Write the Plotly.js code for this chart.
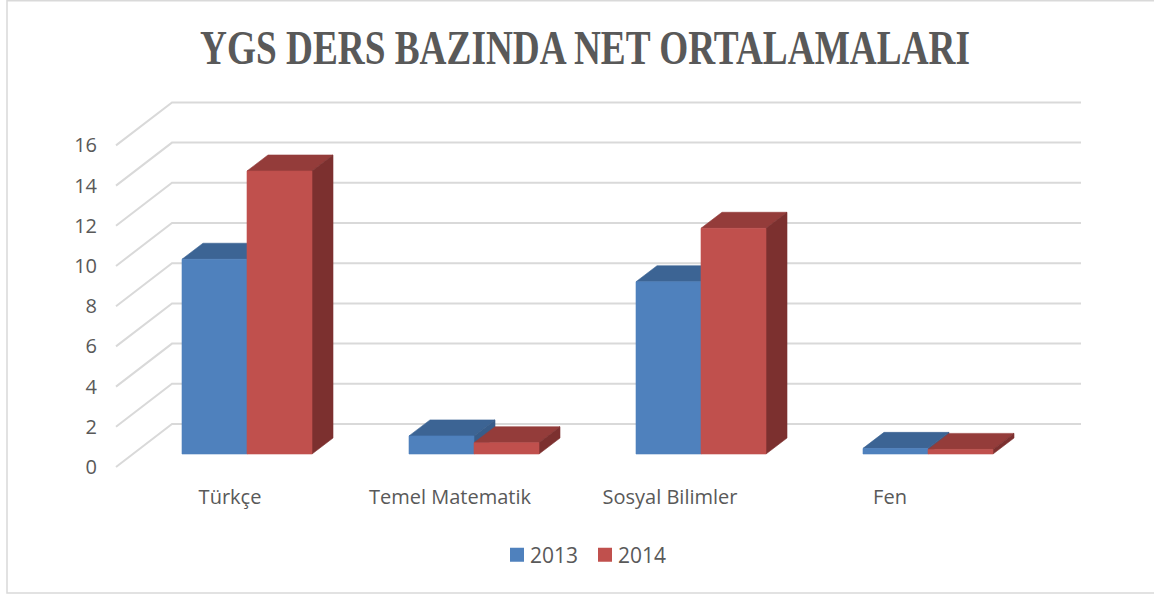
<!DOCTYPE html>
<html>
<head>
<meta charset="utf-8">
<script src="https://cdn.plot.ly/plotly-3.0.1.min.js"></script>
<style>html,body{margin:0;padding:0;background:#fff;}#chart{width:1154px;height:597px;}</style>
</head>
<body>
<div id="chart"></div>
<script>
// ---- data ----
const categories = ['Türkçe', 'Temel Matematik', 'Sosyal Bilimler', 'Fen'];
const seriesNames = ['2013', '2014'];
const values2013 = [9.69, 0.90, 8.57, 0.28];
const values2014 = [14.08, 0.56, 11.23, 0.23];
const yTickValues = [0, 2, 4, 6, 8, 10, 12, 14, 16];
const yTickLabels = ['0', '2', '4', '6', '8', '10', '12', '14', '16'];

// ---- styling / geometry (pixel-ish constants converted into axis units) ----
const W = 1154, H = 597;
const ML = 98;                  // left margin (tick labels live in it)
const pxPerCat = 227, pxPerUnit = 20.1;
const originPx = 247, originPy = 454;   // group 0 centre, value 0 on bar front plane
const toX = px => (px - originPx) / pxPerCat;
const toY = py => (originPy - py) / pxPerUnit;
const barW = 65 / pxPerCat;
const depthX = 21 / pxPerCat, depthY = 16 / pxPerUnit;
const wallDY = 30 / pxPerUnit;                             // back wall offset
const frontDY = -13 / pxPerUnit;                           // front edge offset
const wallLeft = toX(172), wallRight = toX(1081), frontLeft = toX(116);

const colors = {
  '2013': {front: '#4F81BD', top: '#3C6494', side: '#385D8A'},
  '2014': {front: '#C0504D', top: '#943C3A', side: '#7C302F'}
};

const traces = [];
// gridlines (back wall + diagonal side wall)
yTickValues.forEach(v => {
  traces.push({
    type: 'scatter', mode: 'lines', hoverinfo: 'skip', showlegend: false,
    x: [frontLeft, wallLeft, wallRight],
    y: [v + frontDY, v + wallDY, v + wallDY],
    line: {color: '#D9D9D9', width: 2}
  });
});

function poly(xs, ys, color) {
  traces.push({
    type: 'scatter', mode: 'lines', fill: 'toself', fillcolor: color,
    hoverinfo: 'skip', showlegend: false,
    x: xs.concat([xs[0]]), y: ys.concat([ys[0]]),
    line: {color: color, width: 0.6}
  });
}

const allSeries = [values2013, values2014];
categories.forEach((c, i) => {
  allSeries.forEach((vals, s) => {
    const v = vals[i];
    const col = colors[seriesNames[s]];
    const x0 = i - barW + s * barW, x1 = x0 + barW;
    poly([x0, x1, x1 + depthX, x0 + depthX], [v, v, v + depthY, v + depthY], col.top);
    poly([x1, x1 + depthX, x1 + depthX, x1], [0, depthY, v + depthY, v], col.side);
    poly([x0, x1, x1, x0], [0, 0, v, v], col.front);
  });
});

// legend entries
seriesNames.forEach(n => {
  traces.push({type: 'scatter', mode: 'markers', name: n, x: [null], y: [null],
    marker: {color: colors[n].front, symbol: 'square', size: 14, line: {width: 0}}});
});

// category label positions along the front edge of the floor
const catTickVals = categories.map((c, i) => toX(230 + 220 * i));

const layout = {
  width: W, height: H,
  margin: {l: ML, r: 0, t: 0, b: 0, autoexpand: false},
  paper_bgcolor: '#ffffff', plot_bgcolor: 'rgba(0,0,0,0)',
  showlegend: true,
  title: {
    text: '<b>YGS DERS BAZINDA NET ORTALAMALARI</b>',
    font: {family: 'Liberation Serif, Times New Roman, serif', size: 48, color: '#595959'},
    x: 585 / W, xref: 'container', xanchor: 'center',
    y: 1 - 47 / H, yref: 'container', yanchor: 'middle', automargin: false
  },
  xaxis: {
    range: [toX(ML), toX(W)], anchor: 'free', position: 1 - 483 / H,
    showgrid: false, zeroline: false, showline: false, ticks: '', automargin: false,
    tickmode: 'array', tickvals: catTickVals, ticktext: categories,
    tickfont: {family: 'Open Sans, sans-serif', size: 20, color: '#595959'},
    fixedrange: true
  },
  yaxis: {
    range: [toY(H), toY(0)], automargin: false,
    showgrid: false, zeroline: false, showline: false, ticks: '',
    tickmode: 'array', tickvals: yTickValues.map(v => v + frontDY), ticktext: yTickLabels,
    tickfont: {family: 'Open Sans, sans-serif', size: 20, color: '#595959'},
    fixedrange: true
  },
  legend: {
    orientation: 'h', xref: 'container', yref: 'container',
    x: 497 / W, xanchor: 'left', y: 1 - 555 / H, yanchor: 'middle',
    font: {family: 'Open Sans, sans-serif', size: 21, color: '#595959'},
    itemwidth: 30, tracegroupgap: 0, borderwidth: 0,
    entrywidth: 43, entrywidthmode: 'pixels'
  },
  shapes: [{
    type: 'rect', xref: 'paper', yref: 'paper',
    x0: (7 - ML) / (W - ML), x1: 1.01, y0: 1 - 593 / H, y1: 1 - 0.8 / H,
    line: {color: '#D9D9D9', width: 1.5}, fillcolor: 'rgba(0,0,0,0)', layer: 'below'
  }]
};

Plotly.newPlot('chart', traces, layout, {staticPlot: true, displayModeBar: false}).then(gd => {
  const t = gd.querySelector('.gtitle');
  if (t) { t.setAttribute('textLength', '770'); t.setAttribute('lengthAdjust', 'spacingAndGlyphs'); }
  gd.querySelectorAll('.legend .legendtext').forEach(el => {
    el.setAttribute('x', '33');
  });
});
</script>
</body>
</html>
